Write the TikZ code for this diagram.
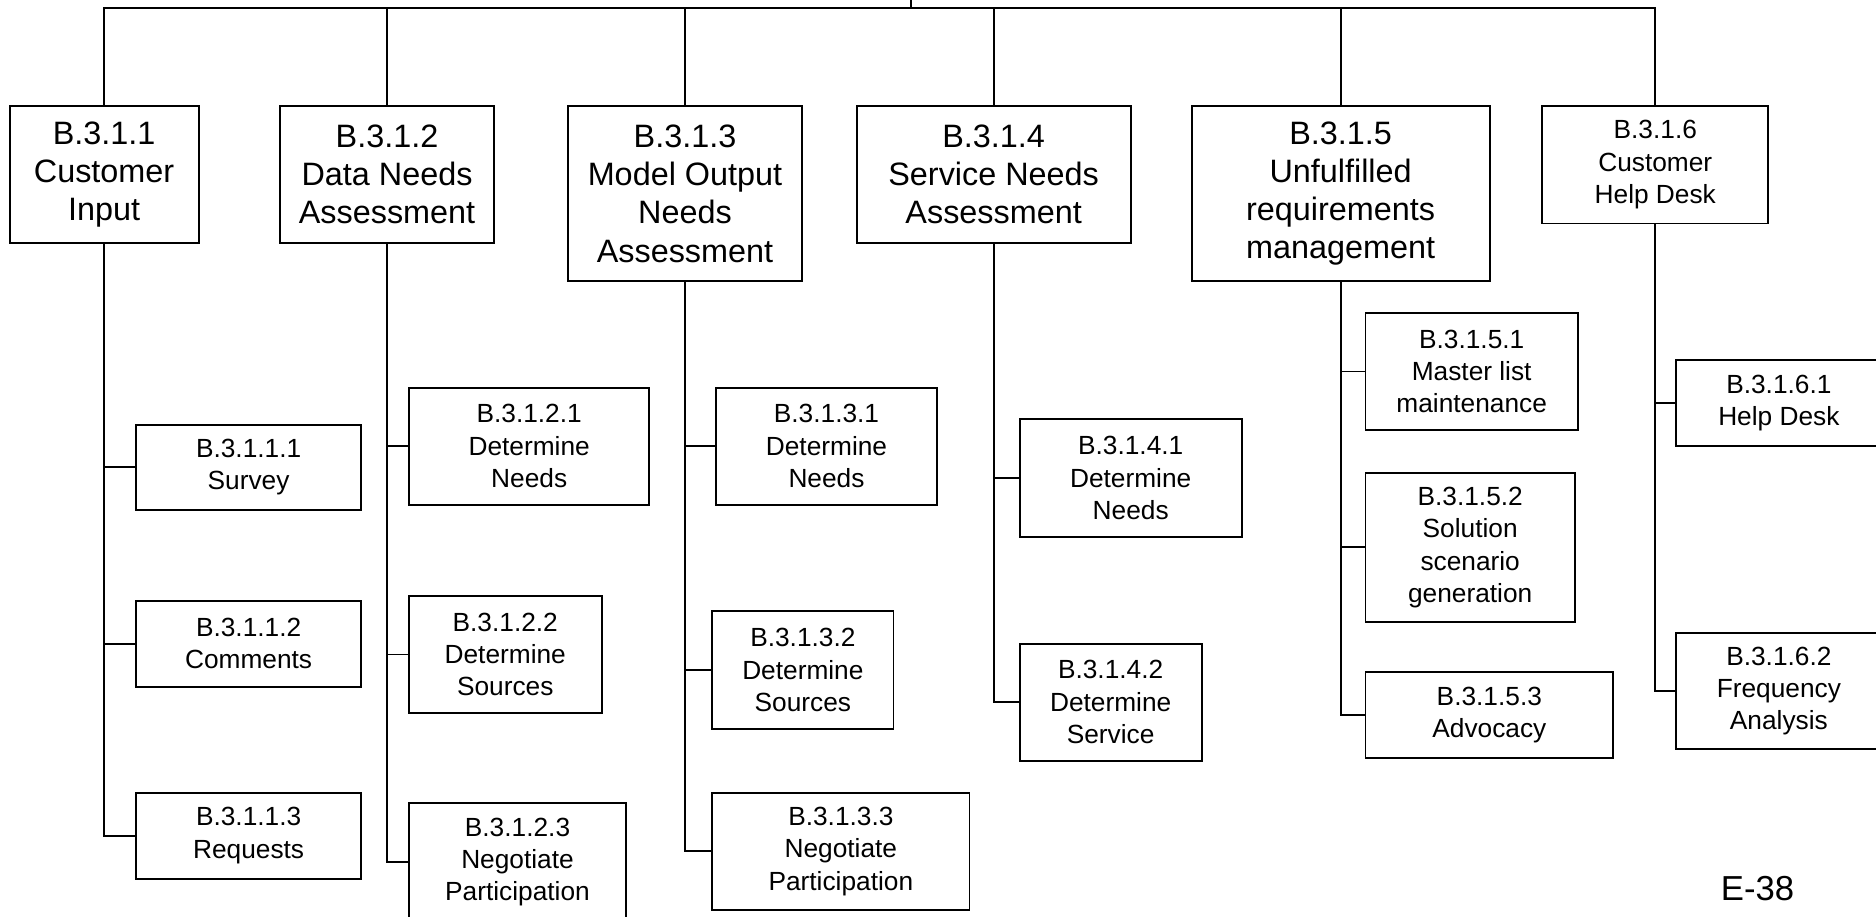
\documentclass[tikz,border=0pt]{standalone}
\usepackage{fontspec}
\setmainfont{Liberation Sans}
\usetikzlibrary{positioning}

\begin{document}
\begin{tikzpicture}[
    line width=0.9pt,
    topbox/.style={draw=black, anchor=north, align=center, inner sep=1pt,
        font=\fontsize{15.4}{18.2}\selectfont},
    subbox/.style={draw=black, anchor=west, align=center, inner sep=1pt,
        font=\fontsize{12.5}{15.4}\selectfont},
    link/.style={draw=black, line width=0.9pt}
]
\useasboundingbox (0,0) rectangle (31.36,-15.32);

% level 1
\node[topbox, minimum width=3.16cm, minimum height=2.28cm] (b311) at (1.74,-1.76) {B.3.1.1\\Customer\\Input};
\node[topbox, minimum width=3.58cm, minimum height=2.28cm] (b312) at (6.47,-1.76) {B.3.1.2\\Data Needs\\Assessment};
\node[topbox, minimum width=3.90cm, minimum height=2.92cm] (b313) at (11.45,-1.76) {B.3.1.3\\Model Output\\Needs\\Assessment};
\node[topbox, minimum width=4.58cm, minimum height=2.28cm] (b314) at (16.61,-1.76) {B.3.1.4\\Service Needs\\Assessment};
\node[topbox, minimum width=4.98cm, minimum height=2.92cm] (b315) at (22.41,-1.76) {B.3.1.5\\Unfulfilled\\requirements\\management};
\node[topbox, minimum width=3.78cm, minimum height=1.96cm, font=\fontsize{12.5}{15.4}\selectfont] (b316) at (27.67,-1.76) {B.3.1.6\\Customer\\Help Desk};

\coordinate (top) at (15.23,0);
\coordinate (join) at (15.23,-0.14);

% level 2
\node[subbox, minimum width=3.76cm, minimum height=1.42cm] (c3111) at (2.26,-7.81) {B.3.1.1.1\\Survey};
\node[subbox, minimum width=3.76cm, minimum height=1.44cm] (c3112) at (2.26,-10.76) {B.3.1.1.2\\Comments};
\node[subbox, minimum width=3.76cm, minimum height=1.44cm] (c3113) at (2.26,-13.97) {B.3.1.1.3\\Requests};

\node[subbox, minimum width=4.02cm, minimum height=1.96cm] (c3121) at (6.82,-7.46) {B.3.1.2.1\\Determine\\Needs};
\node[subbox, minimum width=3.22cm, minimum height=1.96cm] (c3122) at (6.82,-10.94) {B.3.1.2.2\\Determine\\Sources};
\node[subbox, minimum width=3.63cm, minimum height=1.96cm] (c3123) at (6.82,-14.41) {B.3.1.2.3\\Negotiate\\Participation};

\node[subbox, minimum width=3.70cm, minimum height=1.96cm] (c3131) at (11.95,-7.46) {B.3.1.3.1\\Determine\\Needs};
\node[subbox, minimum width=3.03cm, minimum height=1.96cm] (c3132) at (11.89,-11.20) {B.3.1.3.2\\Determine\\Sources};
\node[subbox, minimum width=4.30cm, minimum height=1.96cm] (c3133) at (11.89,-14.23) {B.3.1.3.3\\Negotiate\\Participation};

\node[subbox, minimum width=3.71cm, minimum height=1.97cm] (c3141) at (17.03,-7.99) {B.3.1.4.1\\Determine\\Needs};
\node[subbox, minimum width=3.04cm, minimum height=1.96cm] (c3142) at (17.03,-11.74) {B.3.1.4.2\\Determine\\Service};

\node[subbox, minimum width=3.55cm, minimum height=1.96cm] (c3151) at (22.81,-6.21) {B.3.1.5.1\\Master list\\maintenance};
\node[subbox, minimum width=3.50cm, minimum height=2.50cm] (c3152) at (22.81,-9.15) {B.3.1.5.2\\Solution\\scenario\\generation};
\node[subbox, minimum width=4.14cm, minimum height=1.43cm] (c3153) at (22.81,-11.95) {B.3.1.5.3\\Advocacy};

\node[subbox, minimum width=3.44cm, minimum height=1.43cm] (c3161) at (28.00,-6.74) {B.3.1.6.1\\Help Desk};
\node[subbox, minimum width=3.44cm, minimum height=1.95cm] (c3162) at (28.00,-11.55) {B.3.1.6.2\\Frequency\\Analysis};

\node[font=\fontsize{16.5}{19}\selectfont] (page) at (29.38,-14.86) {E-38};

% connectors
\draw[link] (top) -- (join);
\foreach \b in {b311,b312,b313,b314,b315,b316}{\draw[link] (\b.north) |- (join);}
\foreach \p/\c in {b311/c3111,b311/c3112,b311/c3113,b312/c3121,b312/c3122,b312/c3123,
    b313/c3131,b313/c3132,b313/c3133,b314/c3141,b314/c3142,
    b315/c3151,b315/c3152,b315/c3153,b316/c3161,b316/c3162}{\draw[link] (\p.south) |- (\c.west);}
\end{tikzpicture}
\end{document}
